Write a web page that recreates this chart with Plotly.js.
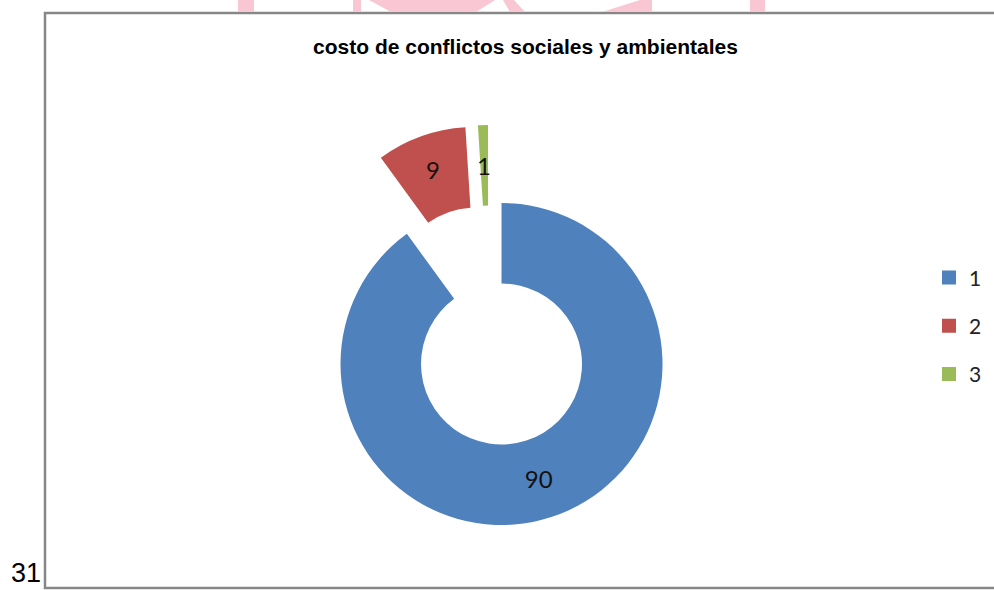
<!DOCTYPE html>
<html>
<head>
<meta charset="utf-8">
<script src="https://cdn.plot.ly/plotly-3.0.1.min.js"></script>
<style>
  html, body { margin: 0; padding: 0; background: #ffffff; overflow: hidden; }
  #chart { width: 994px; height: 590px; }
</style>
</head>
<body>
<div id="chart"></div>
<script>
// ---- data ----
var categories = ['1', '2', '3'];
var values = [90, 9, 1];
var colors = ['#4F81BD', '#C0504D', '#9BBB59'];
var chartTitle = 'costo de conflictos sociales y ambientales';
var pageNumber = '31';

// ---- geometry helpers (figure is 994x590, margins 0 => paper == pixels) ----
var W = 994, H = 590;
var R = 161;            // outer radius in px
var HOLE = 0.5;
// centre of the ring and offsets of the exploded slices (px)
var centres = [
  [501.5, 364],   // slice 1 (not exploded)
  [475.5, 288],   // slice 2 exploded
  [488, 286]      // slice 3 exploded
];
function domainFor(c) {
  return {
    x: [(c[0] - R) / W, (c[0] + R) / W],
    y: [(H - (c[1] + R)) / H, (H - (c[1] - R)) / H]
  };
}
var clear = 'rgba(0,0,0,0)';
var labelFont = { family: 'Lato, "Open Sans", sans-serif', size: 24, color: '#111111' };

var traces = [];
categories.forEach(function (cat, i) {
  var cols = categories.map(function (_, j) { return j === i ? colors[j] : clear; });
  var tmpl = categories.map(function (_, j) { return (j === i && i < 2) ? '%{value}' : ''; });
  traces.push({
    type: 'pie',
    labels: categories,
    values: values,
    sort: false,
    direction: 'clockwise',
    rotation: 0,
    hole: HOLE,
    domain: domainFor(centres[i]),
    marker: { colors: cols, line: { width: 0 } },
    texttemplate: tmpl,
    textposition: 'inside',
    insidetextorientation: 'horizontal',
    textfont: labelFont,
    showlegend: false,
    hoverinfo: 'label+value'
  });
});

// legend entries (square markers)
categories.forEach(function (cat, i) {
  traces.push({
    type: 'scatter', mode: 'markers',
    x: [null], y: [null],
    name: cat,
    legendgroup: 'g' + i,
    marker: { symbol: 'square', size: 14, color: colors[i], line: { width: 0 } },
    showlegend: true, hoverinfo: 'skip'
  });
});

// label for the thin slice 3, placed at its mid-angle in the ring
var total = values.reduce(function (a, b) { return a + b; }, 0);
var cum = values[0] + values[1];
var midAng = 2 * Math.PI * (cum + values[2] / 2) / total;
var rMid = R * (1 + HOLE) / 2;
var lx = centres[2][0] + rMid * Math.sin(midAng);
var ly = centres[2][1] - rMid * Math.cos(midAng);

var pink = '#f8c7d3';
var shapes = [
  // chart frame
  { type: 'rect', xref: 'paper', yref: 'paper', x0: 45 / W, x1: 1.01, y0: (H - 588) / H, y1: (H - 13) / H,
    line: { color: '#878787', width: 2.5 }, fillcolor: 'rgba(0,0,0,0)', layer: 'below' },
  // watermark fragments above the frame
  { type: 'rect', xref: 'paper', yref: 'paper', x0: 238 / W, x1: 254 / W, y0: (H - 12) / H, y1: 1,
    line: { width: 0 }, fillcolor: pink, layer: 'below' },
  { type: 'rect', xref: 'paper', yref: 'paper', x0: 353 / W, x1: 361 / W, y0: (H - 12) / H, y1: 1,
    line: { width: 0 }, fillcolor: pink, layer: 'below' },
  { type: 'path', xref: 'paper', yref: 'paper',
    path: 'M' + (369 / W) + ',1 L' + (495 / W) + ',1 L' + (476 / W) + ',' + ((H - 12) / H) + ' L' + (391 / W) + ',' + ((H - 12) / H) + ' Z',
    line: { width: 0 }, fillcolor: pink, layer: 'below' },
  { type: 'path', xref: 'paper', yref: 'paper',
    path: 'M' + (503 / W) + ',1 L' + (514 / W) + ',1 L' + (525 / W) + ',' + ((H - 12) / H) + ' L' + (510 / W) + ',' + ((H - 12) / H) + ' Z',
    line: { width: 0 }, fillcolor: pink, layer: 'below' },
  { type: 'path', xref: 'paper', yref: 'paper',
    path: 'M' + (640 / W) + ',1 L' + (652 / W) + ',1 L' + (652 / W) + ',' + ((H - 12) / H) + ' L' + (602 / W) + ',' + ((H - 12) / H) + ' Z',
    line: { width: 0 }, fillcolor: pink, layer: 'below' },
  { type: 'rect', xref: 'paper', yref: 'paper', x0: 750 / W, x1: 765 / W, y0: (H - 12) / H, y1: 1,
    line: { width: 0 }, fillcolor: pink, layer: 'below' }
];

var layout = {
  width: W, height: H,
  margin: { l: 0, r: 0, t: 0, b: 0 },
  paper_bgcolor: '#ffffff',
  plot_bgcolor: 'rgba(0,0,0,0)',
  title: {
    text: '<b>' + chartTitle + '</b>',
    x: 525.5 / W, xanchor: 'center', xref: 'paper',
    y: (H - 47) / H, yanchor: 'middle', yref: 'paper',
    font: { family: '"Liberation Sans", Arial, sans-serif', size: 21, color: '#000000' }
  },
  xaxis: { visible: false, range: [0, 1] },
  yaxis: { visible: false, range: [0, 1] },
  showlegend: true,
  legend: {
    x: 929 / W, xanchor: 'left',
    y: (H - 325.75) / H, yanchor: 'middle',
    bgcolor: 'rgba(0,0,0,0)', borderwidth: 0,
    font: { family: 'Lato, "Open Sans", sans-serif', size: 21, color: '#222222' },
    tracegroupgap: 18,
    itemclick: false, itemdoubleclick: false
  },
  shapes: shapes,
  annotations: [
    { xref: 'paper', yref: 'paper', x: lx / W, y: (H - ly) / H, xanchor: 'center', yanchor: 'middle',
      text: String(values[2]), showarrow: false, font: labelFont },
    { xref: 'paper', yref: 'paper', x: 9 / W, y: 0, xanchor: 'left', yanchor: 'bottom',
      text: pageNumber, showarrow: false,
      font: { family: '"Liberation Sans", Arial, sans-serif', size: 27, color: '#000000' } }
  ]
};

Plotly.newPlot('chart', traces, layout, { displayModeBar: false, staticPlot: true });
</script>
</body>
</html>
